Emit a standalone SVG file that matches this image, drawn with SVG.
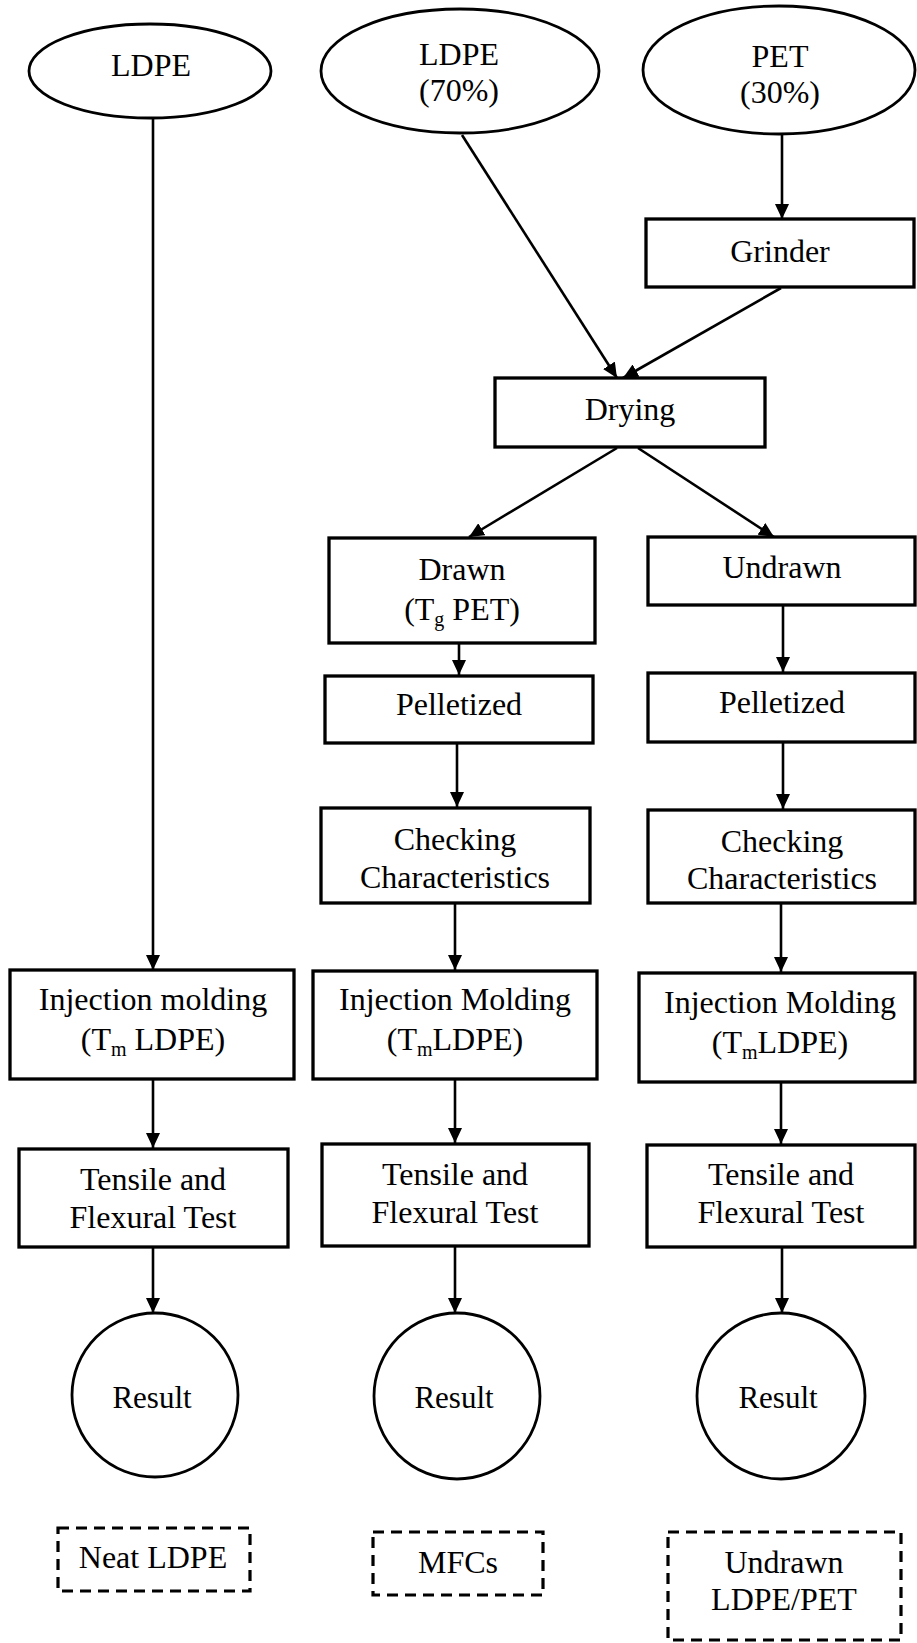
<svg xmlns="http://www.w3.org/2000/svg" width="917" height="1643" viewBox="0 0 917 1643">
<style>
text{font-family:"Liberation Serif","Times New Roman",serif;font-size:32px;fill:#000;text-anchor:middle}
.box{fill:#fff;stroke:#000;stroke-width:3.3}
.ell{fill:#fff;stroke:#000;stroke-width:2.8}
.dash{fill:none;stroke:#000;stroke-width:3.2;stroke-dasharray:11 7}
.sub{font-size:20px}
.res{font-size:31px}
#connectors path{fill:none;stroke:#000;stroke-width:2.6;marker-end:url(#arr)}
</style>
<defs>
<marker id="arr" viewBox="0 0 15 14" refX="15" refY="7" markerWidth="15" markerHeight="14" markerUnits="userSpaceOnUse" orient="auto">
<path d="M0,0 L15,7 L0,14 z" fill="#000"/>
</marker>
</defs>
<rect width="917" height="1643" fill="#fff"/>
<g id="connectors">
<path d="M153,118 L153,970"/>
<path d="M462,135 L617,378"/>
<path d="M782,135 L782,219"/>
<path d="M781,288 L623,378"/>
<path d="M617,448 L469,537"/>
<path d="M638,448 L774,537"/>
<path d="M459,643 L459,675"/>
<path d="M783,605 L783,672"/>
<path d="M457,743 L457,807"/>
<path d="M783,742 L783,809"/>
<path d="M455,903 L455,970"/>
<path d="M781,903 L781,972"/>
<path d="M153,1079 L153,1148"/>
<path d="M455,1079 L455,1143"/>
<path d="M781,1082 L781,1144"/>
<path d="M153,1247 L153,1313"/>
<path d="M455,1246 L455,1313"/>
<path d="M782,1247 L782,1313"/>
</g>
<g id="ldpe">
<ellipse class="ell" cx="150" cy="71" rx="121" ry="47"/>
<text x="151" y="76">LDPE</text>
</g>
<g id="ldpe70">
<ellipse class="ell" cx="460" cy="71" rx="139" ry="62"/>
<text x="459" y="65">LDPE</text>
<text x="459" y="101">(70%)</text>
</g>
<g id="pet30">
<ellipse class="ell" cx="779" cy="70" rx="136" ry="64"/>
<text x="780" y="67">PET</text>
<text x="780" y="103">(30%)</text>
</g>
<g id="grinder">
<rect class="box" x="646" y="219" width="268" height="68"/>
<text x="780" y="262">Grinder</text>
</g>
<g id="drying">
<rect class="box" x="495" y="378" width="270" height="69"/>
<text x="630" y="420">Drying</text>
</g>
<g id="drawn">
<rect class="box" x="329" y="538" width="266" height="105"/>
<text x="462" y="580">Drawn</text>
<text x="462" y="620">(T<tspan class="sub" dy="6">g</tspan><tspan dy="-6"> PET)</tspan></text>
</g>
<g id="undrawn">
<rect class="box" x="648" y="537" width="267" height="68"/>
<text x="782" y="578">Undrawn</text>
</g>
<g id="pellet1">
<rect class="box" x="325" y="676" width="268" height="67"/>
<text x="459" y="715">Pelletized</text>
</g>
<g id="pellet2">
<rect class="box" x="648" y="673" width="267" height="69"/>
<text x="782" y="713">Pelletized</text>
</g>
<g id="check1">
<rect class="box" x="321" y="808" width="269" height="95"/>
<text x="455" y="850">Checking</text>
<text x="455" y="888">Characteristics</text>
</g>
<g id="check2">
<rect class="box" x="648" y="810" width="267" height="93"/>
<text x="782" y="852">Checking</text>
<text x="782" y="889">Characteristics</text>
</g>
<g id="inj1">
<rect class="box" x="10" y="970" width="284" height="109"/>
<text x="153" y="1010">Injection molding</text>
<text x="153" y="1050">(T<tspan class="sub" dy="6">m</tspan><tspan dy="-6"> LDPE)</tspan></text>
</g>
<g id="inj2">
<rect class="box" x="313" y="971" width="284" height="108"/>
<text x="455" y="1010">Injection Molding</text>
<text x="455" y="1050">(T<tspan class="sub" dy="6">m</tspan><tspan dy="-6">LDPE)</tspan></text>
</g>
<g id="inj3">
<rect class="box" x="639" y="973" width="276" height="109"/>
<text x="780" y="1013">Injection Molding</text>
<text x="780" y="1053">(T<tspan class="sub" dy="6">m</tspan><tspan dy="-6">LDPE)</tspan></text>
</g>
<g id="tensile1">
<rect class="box" x="19" y="1149" width="269" height="98"/>
<text x="153" y="1190">Tensile and</text>
<text x="153" y="1228">Flexural Test</text>
</g>
<g id="tensile2">
<rect class="box" x="322" y="1144" width="267" height="102"/>
<text x="455" y="1185">Tensile and</text>
<text x="455" y="1223">Flexural Test</text>
</g>
<g id="tensile3">
<rect class="box" x="647" y="1145" width="268" height="102"/>
<text x="781" y="1185">Tensile and</text>
<text x="781" y="1223">Flexural Test</text>
</g>
<g id="result1">
<ellipse class="ell" cx="155" cy="1395" rx="83" ry="82"/>
<text class="res" x="152" y="1408">Result</text>
</g>
<g id="result2">
<ellipse class="ell" cx="457" cy="1396" rx="83" ry="83"/>
<text class="res" x="454" y="1408">Result</text>
</g>
<g id="result3">
<ellipse class="ell" cx="781" cy="1396" rx="84" ry="83"/>
<text class="res" x="778" y="1408">Result</text>
</g>
<g id="neat">
<rect class="dash" x="58" y="1528" width="192" height="63"/>
<text x="153" y="1568">Neat LDPE</text>
</g>
<g id="mfcs">
<rect class="dash" x="373" y="1532" width="170" height="63"/>
<text x="458" y="1573">MFCs</text>
</g>
<g id="undrawn-blend">
<rect class="dash" x="668" y="1532" width="233" height="108"/>
<text x="784" y="1573">Undrawn</text>
<text x="784" y="1610">LDPE/PET</text>
</g>
</svg>
